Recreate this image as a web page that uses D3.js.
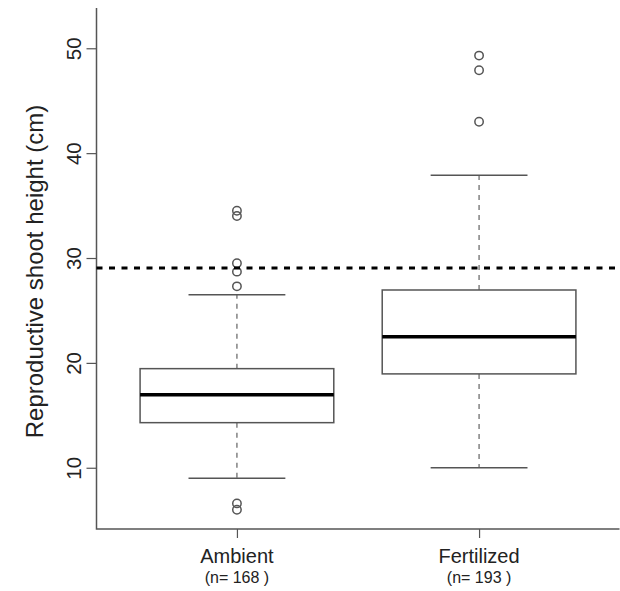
<!DOCTYPE html>
<html>
<head>
<meta charset="utf-8">
<script src="https://cdn.jsdelivr.net/npm/d3@7"></script>
<style>
  body { margin: 0; background: #fff; }
  text { font-family: "Liberation Sans", Arial, sans-serif; }
</style>
</head>
<body>
<div id="chart"></div>
<script>
const groups = ['Ambient', 'Fertilized'];
const counts = [168, 193];
const q1 = [14.3, 18.95];
const medians = [16.95, 22.5];
const q3 = [19.45, 26.95];
const whiskerLow = [9.0, 10.0];
const whiskerHigh = [26.5, 37.9];
const outliers = [
  [6.0, 6.6, 27.3, 28.7, 29.5, 34.0, 34.5],
  [43.0, 47.9, 49.3]
];
const yTicks = [10, 20, 30, 40, 50];
const refLine = 29.05;

const width = 620;
const height = 591;
const margin = { top: 8, right: 0.5, bottom: 62, left: 96.5 };
const innerWidth = width - margin.left - margin.right;
const innerHeight = height - margin.top - margin.bottom;
const axisColor = '#555';

const svg = d3.select('#chart').append('svg')
  .attr('width', width)
  .attr('height', height)
  .attr('viewBox', [0, 0, width, height])
  .style('display', 'block');

const g = svg.append('g')
  .attr('transform', `translate(${margin.left},${margin.top})`);

// R style: groups at 1..n, xlim 0.5..n+0.5 padded 4%
const xScale = d3.scaleLinear().domain([0.42, 2.58]).range([0, innerWidth]);
const yScale = d3.scaleLinear().domain([4.16, 53.84]).range([innerHeight, 0]);

const boxW = xScale(1.8) - xScale(1);
const capW = boxW / 2;

// y axis, labels parallel to the axis
const yAxis = d3.axisLeft(yScale).tickValues(yTicks).tickSize(10);
const yAxisG = g.append('g').call(yAxis);
yAxisG.select('.domain').remove();
yAxisG.selectAll('.tick line').attr('stroke', axisColor).attr('stroke-width', 1.2);
yAxisG.selectAll('.tick text')
  .attr('font-size', 20.5)
  .attr('fill', '#222')
  .attr('text-anchor', 'middle')
  .attr('dy', 0)
  .attr('x', 0)
  .attr('y', -16)
  .attr('transform', 'rotate(-90)');

// x ticks
const xAxis = d3.axisBottom(xScale).tickValues([1, 2]).tickSize(9).tickFormat('');
const xAxisG = g.append('g').attr('transform', `translate(0,${innerHeight})`).call(xAxis);
xAxisG.select('.domain').remove();
xAxisG.selectAll('.tick line').attr('stroke', axisColor).attr('stroke-width', 1.2);

groups.forEach((name, i) => {
  const cx = xScale(i + 1);
  g.append('text')
    .attr('x', cx).attr('y', innerHeight + 34)
    .attr('text-anchor', 'middle').attr('font-size', 20).attr('fill', '#222')
    .text(name);
  g.append('text')
    .attr('x', cx).attr('y', innerHeight + 54)
    .attr('text-anchor', 'middle').attr('font-size', 16).attr('fill', '#222')
    .text(`(n= ${counts[i]} )`);
});

// L shaped frame
g.append('path')
  .attr('d', `M0,0 V${innerHeight} H${innerWidth}`)
  .attr('fill', 'none')
  .attr('stroke', axisColor)
  .attr('stroke-width', 1.5);

// y title
svg.append('text')
  .attr('transform', `translate(43,${margin.top + innerHeight / 2 + 3}) rotate(-90)`)
  .attr('text-anchor', 'middle')
  .attr('font-size', 24)
  .attr('fill', '#222')
  .text('Reproductive shoot height (cm)');

// boxes
groups.forEach((name, i) => {
  const cx = xScale(i + 1);
  const bg = g.append('g');
  bg.append('line')
    .attr('x1', cx).attr('x2', cx)
    .attr('y1', yScale(q3[i])).attr('y2', yScale(whiskerHigh[i]))
    .attr('stroke', axisColor).attr('stroke-width', 1.1).attr('stroke-dasharray', '5,5');
  bg.append('line')
    .attr('x1', cx).attr('x2', cx)
    .attr('y1', yScale(q1[i])).attr('y2', yScale(whiskerLow[i]))
    .attr('stroke', axisColor).attr('stroke-width', 1.1).attr('stroke-dasharray', '5,5');
  [whiskerLow[i], whiskerHigh[i]].forEach(v => {
    bg.append('line')
      .attr('x1', cx - capW / 2).attr('x2', cx + capW / 2)
      .attr('y1', yScale(v)).attr('y2', yScale(v))
      .attr('stroke', axisColor).attr('stroke-width', 1.5);
  });
  bg.append('rect')
    .attr('x', cx - boxW / 2).attr('width', boxW)
    .attr('y', yScale(q3[i])).attr('height', yScale(q1[i]) - yScale(q3[i]))
    .attr('fill', 'white').attr('stroke', axisColor).attr('stroke-width', 1.5);
  bg.append('line')
    .attr('x1', cx - boxW / 2).attr('x2', cx + boxW / 2)
    .attr('y1', yScale(medians[i])).attr('y2', yScale(medians[i]))
    .attr('stroke', '#000').attr('stroke-width', 3.5);
  bg.selectAll('circle')
    .data(outliers[i])
    .join('circle')
    .attr('cx', cx).attr('cy', d => yScale(d)).attr('r', 4.2)
    .attr('fill', 'none').attr('stroke', axisColor).attr('stroke-width', 1.5);
});

// reference line
g.append('line')
  .attr('x1', 0).attr('x2', innerWidth)
  .attr('y1', yScale(refLine)).attr('y2', yScale(refLine))
  .attr('stroke', '#000').attr('stroke-width', 3).attr('stroke-dasharray', '6,6.5');
</script>
</body>
</html>
